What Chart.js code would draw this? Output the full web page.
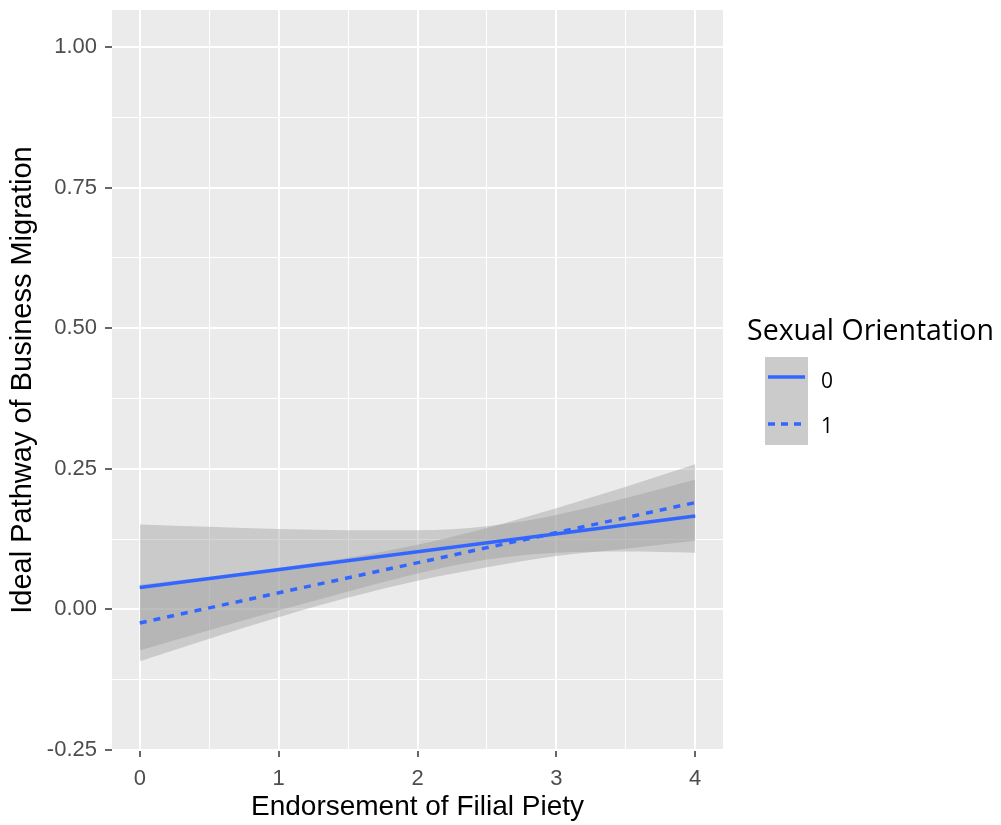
<!DOCTYPE html>
<html lang="en">
<head>
<meta charset="UTF-8">
<title>Ideal Pathway of Business Migration</title>
<script src="https://cdn.jsdelivr.net/npm/chart.js"></script>
<style>
  body { margin: 0; background: #fff; }
  .wrap { position: relative; width: 1001px; height: 825px; }
  .legend-title {
    position: absolute; left: 747px; top: 311px;
    font-family: "Open Sans", sans-serif; font-size: 28.5px; line-height: 36px; color: #000;
    white-space: nowrap;
  }
  .legend-keys {
    position: absolute; left: 765px; top: 357px; width: 43px; height: 88px;
    background: #cbcbcb;
  }
  .legend-keys svg { display: block; }
  .legend-label {
    position: absolute; left: 821px;
    font-family: "Open Sans", sans-serif; font-size: 21px; line-height: 26px; color: #000;
  }
</style>
</head>
<body>
<div class="wrap">
  <canvas id="chart" width="1001" height="825"></canvas>
  <div class="legend-title">Sexual Orientation</div>
  <div class="legend-keys">
    <svg width="43" height="88">
      <line x1="3" y1="20" x2="40" y2="20" stroke="#3366FF" stroke-width="3.5"/>
      <line x1="3" y1="67" x2="40" y2="67" stroke="#3366FF" stroke-width="3.5" stroke-dasharray="7 6"/>
    </svg>
  </div>
  <div class="legend-label" style="top: 367px;">0</div>
  <div class="legend-label" style="top: 412px;">1</div>
</div>

<script>
  // fitted lines (end points)
  const lineX = [0, 4];
  const fit0 = [0.039, 0.166];
  const fit1 = [-0.024, 0.190];

  // confidence ribbons
  const ribbonX = [0, 0.5, 1, 1.5, 2, 2.5, 3, 3.5, 4];
  const lower0 = [-0.073, -0.037, -0.002, 0.032, 0.064, 0.089, 0.101, 0.103, 0.101];
  const upper0 = [0.151, 0.147, 0.143, 0.141, 0.141, 0.148, 0.168, 0.198, 0.231];
  const lower1 = [-0.092, -0.052, -0.014, 0.021, 0.051, 0.075, 0.095, 0.108, 0.122];
  const upper1 = [0.044, 0.058, 0.074, 0.092, 0.115, 0.145, 0.180, 0.218, 0.258];

  // axis ticks
  const xTicks = [0, 0.5, 1, 1.5, 2, 2.5, 3, 3.5, 4];
  const xMajor = [0, 1, 2, 3, 4];
  const yTicks = [-0.25, -0.125, 0, 0.125, 0.25, 0.375, 0.5, 0.625, 0.75, 0.875, 1];
  const yMajor = [-0.25, 0, 0.25, 0.5, 0.75, 1];

  const lineBlue = '#3366FF';
  const ribbonFill = 'rgba(153,153,153,0.4)';

  function pts(xs, ys) {
    return xs.map((x, i) => ({ x: x, y: ys[i] }));
  }

  function gridFor(major) {
    return {
      color: '#FFFFFF',
      lineWidth: ctx => (ctx.tick && major.includes(ctx.tick.value)) ? 2 : 1,
      tickColor: ctx => (ctx.tick && major.includes(ctx.tick.value)) ? '#333333' : 'rgba(0,0,0,0)',
      tickLength: 7,
      tickWidth: 1.5
    };
  }

  // grey panel behind the grid
  const panelBg = {
    id: 'panelBg',
    beforeDraw(chart) {
      const a = chart.chartArea;
      const c = chart.ctx;
      c.save();
      c.fillStyle = '#EBEBEB';
      c.fillRect(a.left, a.top, a.right - a.left, a.bottom - a.top);
      c.restore();
    }
  };

  Chart.defaults.font.family = '"Liberation Sans", Arial, sans-serif';

  const ribbonStyle = { borderWidth: 0, pointRadius: 0, cubicInterpolationMode: 'monotone', backgroundColor: ribbonFill };

  new Chart(document.getElementById('chart'), {
    type: 'line',
    data: {
      datasets: [
        { label: '0', data: pts(lineX, fit0), borderColor: lineBlue, borderWidth: 3.5, pointRadius: 0, fill: false },
        { label: '1', data: pts(lineX, fit1), borderColor: lineBlue, borderWidth: 3.5, borderDash: [7, 7], pointRadius: 0, fill: false },
        Object.assign({ label: 'lo0', data: pts(ribbonX, lower0), fill: false }, ribbonStyle),
        Object.assign({ label: 'hi0', data: pts(ribbonX, upper0), fill: 2 }, ribbonStyle),
        Object.assign({ label: 'lo1', data: pts(ribbonX, lower1), fill: false }, ribbonStyle),
        Object.assign({ label: 'hi1', data: pts(ribbonX, upper1), fill: 4 }, ribbonStyle)
      ]
    },
    options: {
      responsive: false,
      animation: false,
      layout: { padding: { top: 10, right: 278, left: 0, bottom: 0 } },
      plugins: {
        legend: { display: false },
        tooltip: { enabled: false }
      },
      scales: {
        x: {
          type: 'linear',
          min: -0.2,
          max: 4.2,
          afterBuildTicks: s => { s.ticks = xTicks.map(v => ({ value: v })); },
          afterFit: s => { s.height = 75; s.paddingLeft = 0; s.paddingRight = 0; },
          border: { display: false },
          grid: gridFor(xMajor),
          ticks: {
            autoSkip: false,
            maxRotation: 0,
            padding: 9,
            color: '#4D4D4D',
            font: { size: 22 },
            callback: v => xMajor.includes(v) ? String(v) : ''
          },
          title: {
            display: true,
            text: 'Endorsement of Filial Piety',
            color: '#000',
            font: { size: 28 },
            padding: { top: 0, bottom: 1 }
          }
        },
        y: {
          type: 'linear',
          min: -0.25,
          max: 1.066,
          afterBuildTicks: s => { s.ticks = yTicks.map(v => ({ value: v })); },
          afterFit: s => { s.width = 112; s.paddingTop = 0; s.paddingBottom = 0; },
          border: { display: false },
          grid: gridFor(yMajor),
          ticks: {
            autoSkip: false,
            padding: 8,
            color: '#4D4D4D',
            font: { size: 22 },
            callback: v => yMajor.includes(v) ? v.toFixed(2) : ''
          },
          title: {
            display: true,
            text: 'Ideal Pathway of Business Migration',
            color: '#000',
            font: { size: 29 },
            padding: { top: 6, bottom: 0 }
          }
        }
      }
    },
    plugins: [panelBg]
  });
</script>
</body>
</html>
